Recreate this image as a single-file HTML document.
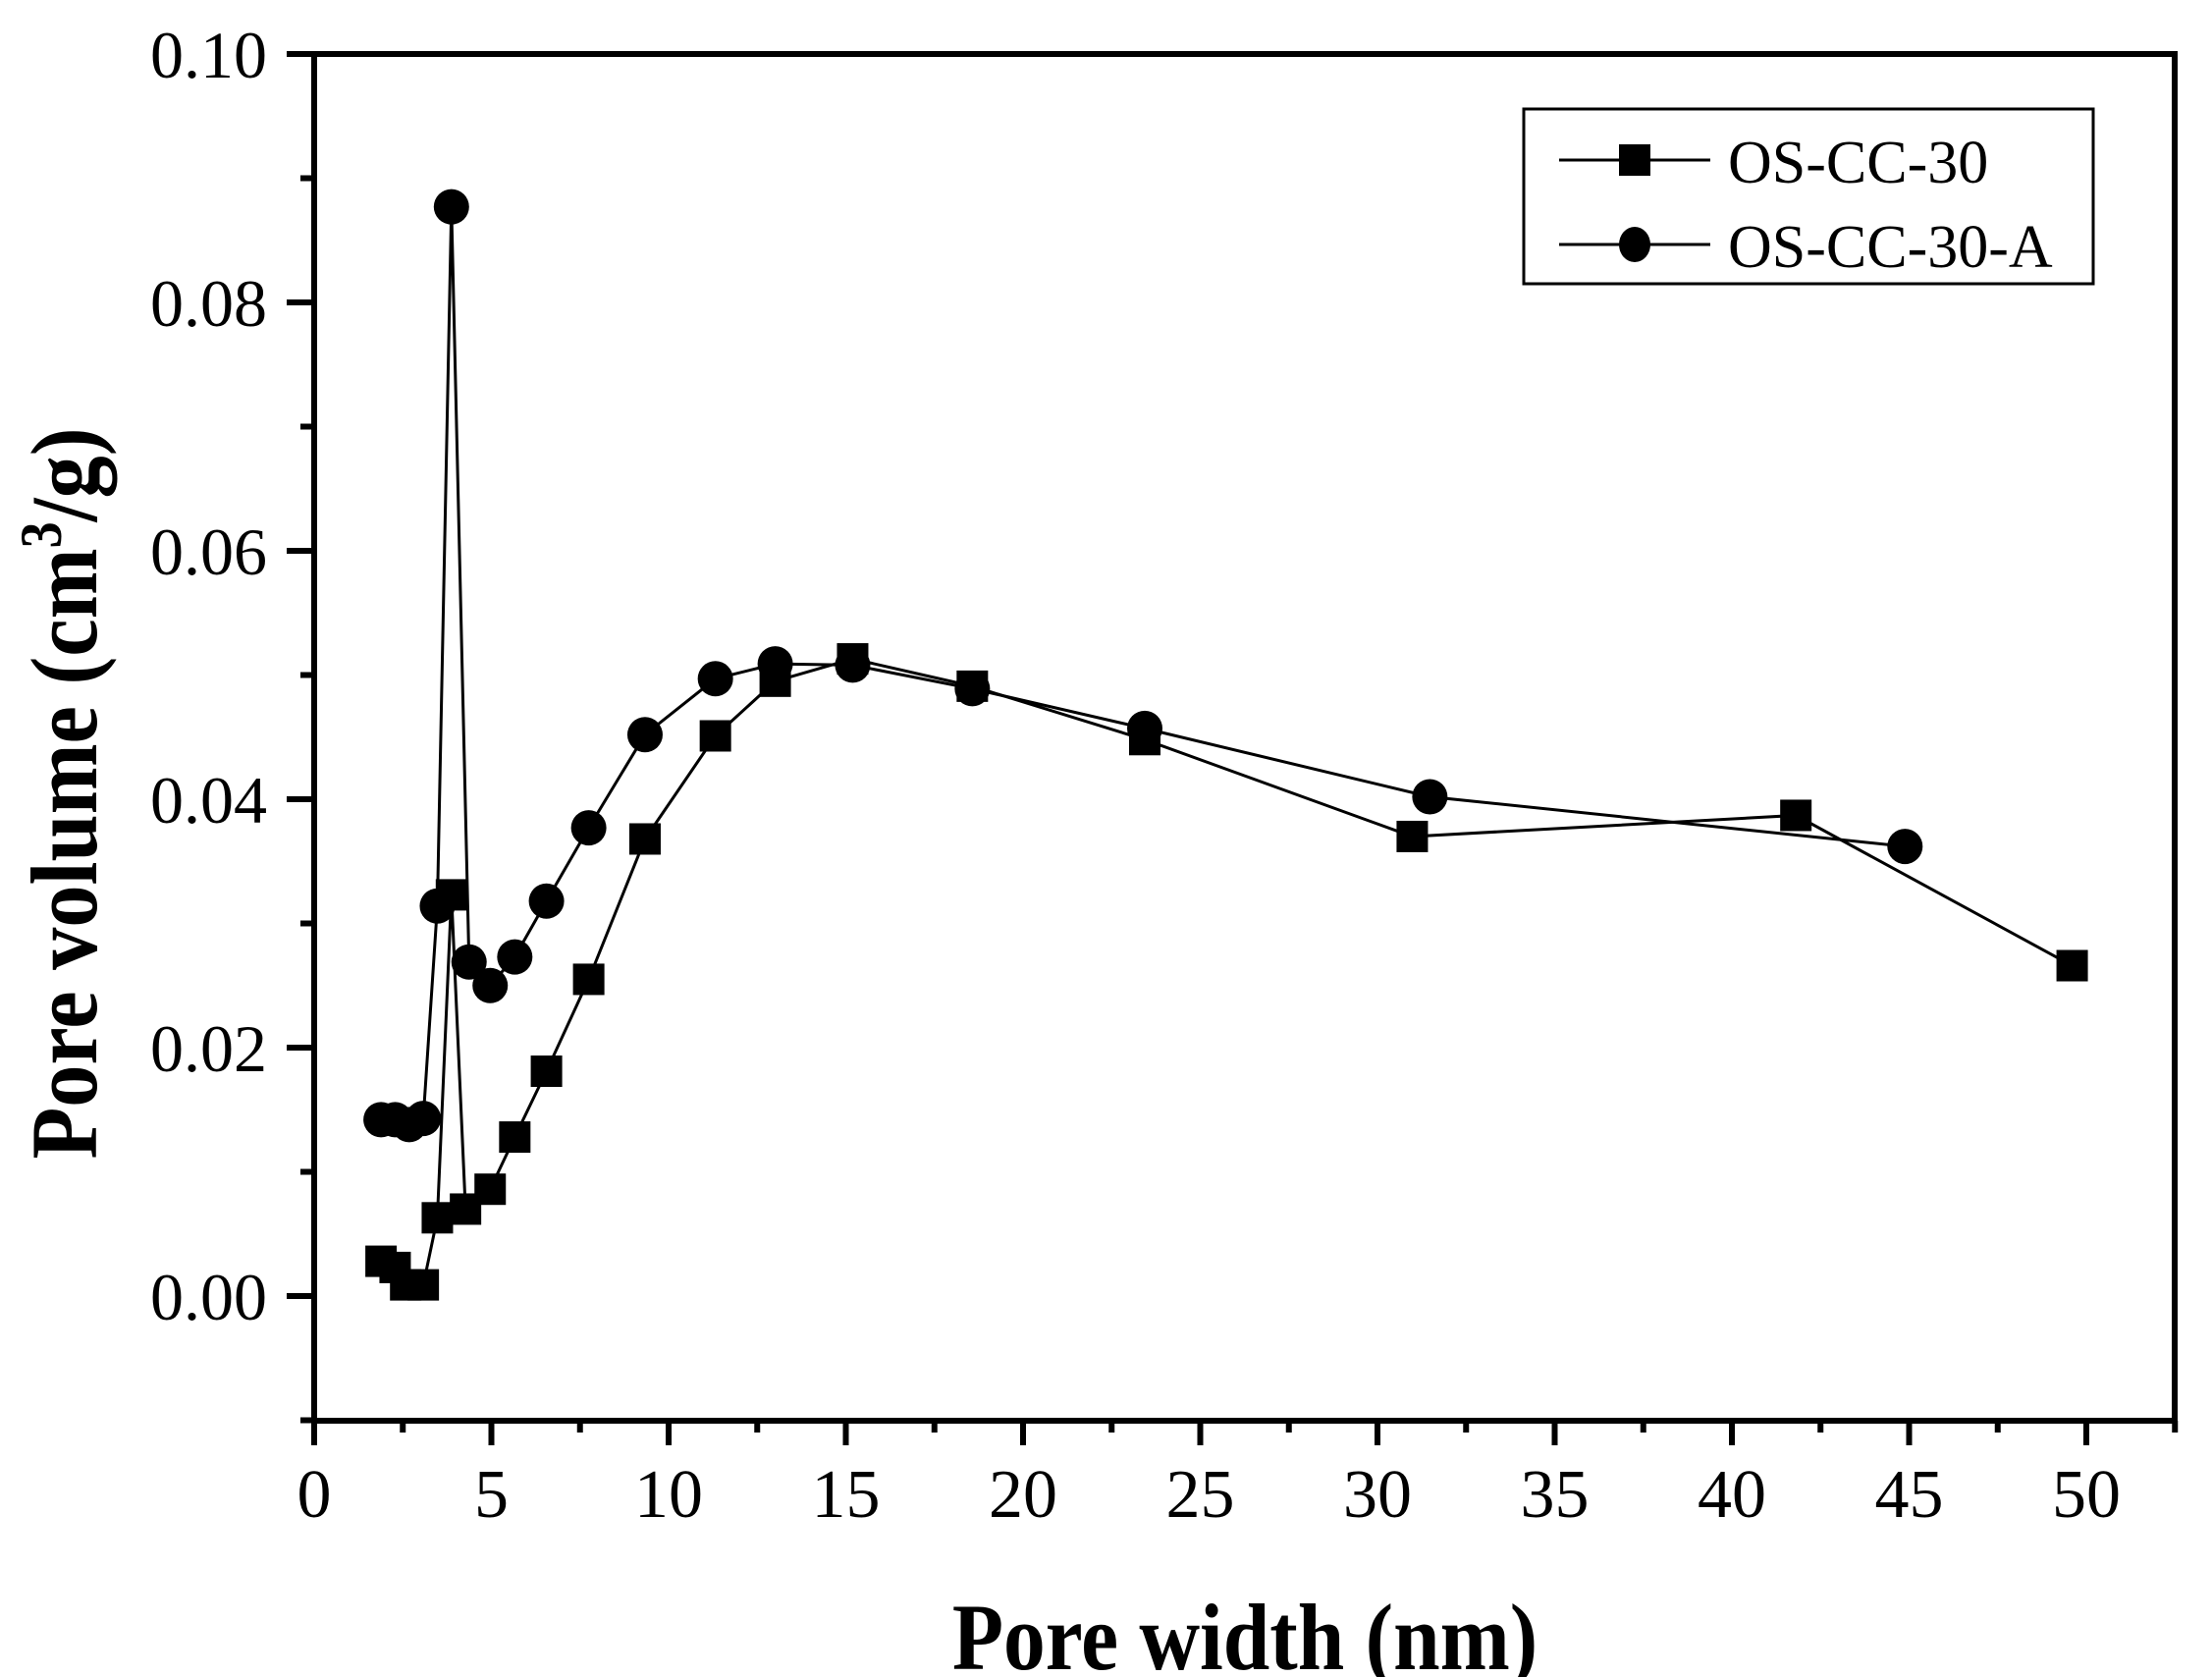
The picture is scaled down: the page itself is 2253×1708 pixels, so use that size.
<!DOCTYPE html>
<html><head><meta charset="utf-8"><style>
html,body{margin:0;padding:0;background:#fff;}
svg{display:block;}
text{font-family:"Liberation Serif",serif;fill:#000;}
</style></head><body>
<svg id="s" width="2253" height="1708" viewBox="0 0 2253 1708" xmlns="http://www.w3.org/2000/svg">
<rect width="2253" height="1708" fill="#fff"/>
<g id="plot"></g>
<rect x="320" y="55" width="1895" height="1392" fill="none" stroke="#000" stroke-width="6"/>
<g id="ticks" stroke="#000" stroke-width="6"></g>
<g font-size="68" text-anchor="end">
<text x="272" y="1344">0.00</text>
<text x="272" y="1091">0.02</text>
<text x="272" y="838">0.04</text>
<text x="272" y="585">0.06</text>
<text x="272" y="332">0.08</text>
<text x="272" y="79">0.10</text>
</g>
<g font-size="70" text-anchor="middle">
<text x="320" y="1545">0</text>
<text x="500.5" y="1545">5</text>
<text x="681" y="1545">10</text>
<text x="861.5" y="1545">15</text>
<text x="1042" y="1545">20</text>
<text x="1222.5" y="1545">25</text>
<text x="1403" y="1545">30</text>
<text x="1583.5" y="1545">35</text>
<text x="1764" y="1545">40</text>
<text x="1944.5" y="1545">45</text>
<text x="2125" y="1545">50</text>
</g>
<text transform="translate(1268,1700) scale(0.89,1)" font-size="96" font-weight="bold" text-anchor="middle">Pore width (nm)</text>
<text transform="translate(98,808) rotate(-90) scale(0.9,1)" font-size="96" font-weight="bold" text-anchor="middle">Pore volume (cm<tspan font-size="60" dy="-36">3</tspan><tspan dy="36">/g)</tspan></text>
<rect x="1552" y="111" width="580" height="178" fill="#fff" stroke="#000" stroke-width="3"/>
<line x1="1588" y1="163" x2="1742" y2="163" stroke="#000" stroke-width="3"/>
<rect x="1649" y="147" width="32" height="32" fill="#000"/>
<line x1="1588" y1="249" x2="1742" y2="249" stroke="#000" stroke-width="3"/>
<ellipse cx="1665" cy="249" rx="16" ry="18" fill="#000"/>
<text x="1760" y="186" font-size="62">OS-CC-30</text>
<text x="1760" y="272" font-size="62">OS-CC-30-A</text>
</svg>
<script>
var NS="http://www.w3.org/2000/svg";
function X(x){return 320+36.1*x;}
function Y(v){return 1320-12650*v;}
var t=document.getElementById("ticks");
function ln(g,a,b,c,d){var l=document.createElementNS(NS,"line");l.setAttribute("x1",a);l.setAttribute("y1",b);l.setAttribute("x2",c);l.setAttribute("y2",d);g.appendChild(l);}
for(var i=0;i<=21;i++){var x=X(i*2.5);ln(t,x,1447,x,1447+(i%2?12:25));}
for(var j=-1;j<=10;j++){var y=Y(j*0.01);ln(t,320,y,320-(j%2?14:28),y);}
var s1=[[1.9,0.0028],[2.3,0.0023],[2.6,0.0009],[3.1,0.0009],[3.5,0.0063],[3.9,0.0323],[4.3,0.0070],[5.0,0.0086],[5.7,0.0128],[6.6,0.0181],[7.8,0.0255],[9.4,0.0368],[11.4,0.0451],[13.1,0.0495],[15.3,0.0513],[18.7,0.0491],[23.6,0.0448],[31.2,0.0370],[42.1,0.0387],[49.95,0.0266]];
var s2=[[1.9,0.0142],[2.3,0.0142],[2.7,0.0138],[3.1,0.0143],[3.5,0.0314],[3.9,0.0877],[4.4,0.0269],[5.0,0.0250],[5.7,0.0273],[6.6,0.0318],[7.8,0.0377],[9.4,0.0452],[11.4,0.0497],[13.1,0.0509],[15.3,0.0508],[18.7,0.0489],[23.6,0.0457],[31.7,0.0402],[45.2,0.0362]];
var k=0.993;
var p=document.getElementById("plot");
function poly(d){var pl=document.createElementNS(NS,"polyline");pl.setAttribute("points",d.map(function(q){return X(q[0]*k)+","+Y(q[1]);}).join(" "));pl.setAttribute("fill","none");pl.setAttribute("stroke","#000");pl.setAttribute("stroke-width","3");p.appendChild(pl);}
poly(s1);poly(s2);
s1.forEach(function(q){var r=document.createElementNS(NS,"rect");r.setAttribute("x",X(q[0]*k)-16);r.setAttribute("y",Y(q[1])-16);r.setAttribute("width",32);r.setAttribute("height",32);p.appendChild(r);});
s2.forEach(function(q){var e=document.createElementNS(NS,"ellipse");e.setAttribute("cx",X(q[0]*k));e.setAttribute("cy",Y(q[1]));e.setAttribute("rx",18);e.setAttribute("ry",18);p.appendChild(e);});
</script>
</body></html>
